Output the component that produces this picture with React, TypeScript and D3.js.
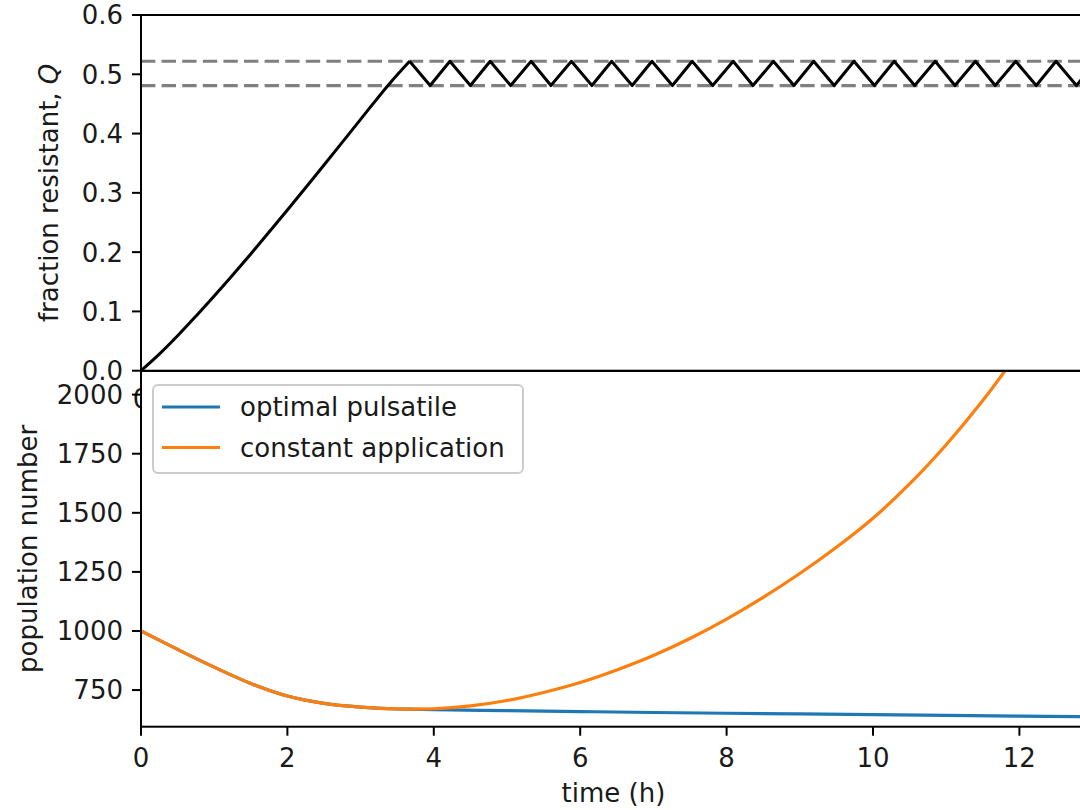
import React from 'react';
import * as d3 from 'd3';

// time axis (h)
const xTicks = [0, 2, 4, 6, 8, 10, 12];

// top panel: fraction resistant Q, rising part before pulsing starts
const riseTime = [0, 0.25, 0.5, 0.75, 1.0, 1.25, 1.5, 1.75, 2.0, 2.5, 3.0, 3.4, 3.67];
const riseQ = [0, 0.028, 0.059, 0.092, 0.126, 0.161, 0.197, 0.234, 0.271, 0.347, 0.424, 0.485, 0.522];

// pulsing between the two thresholds
const peakTimes = [3.67, 4.22, 4.77, 5.33, 5.88, 6.43, 6.98, 7.53, 8.09, 8.64, 9.19, 9.74, 10.29, 10.85, 11.40, 11.95, 12.50, 13.05];
const troughTimes = [3.95, 4.50, 5.05, 5.60, 6.16, 6.71, 7.26, 7.81, 8.36, 8.92, 9.47, 10.02, 10.57, 11.12, 11.67, 12.23, 12.78];
const qUpper = 0.522;
const qLower = 0.481;
const qTicks = [0, 0.1, 0.2, 0.3, 0.4, 0.5, 0.6];

// bottom panel: population number
const constTime = [0, 0.5, 1, 1.5, 2, 2.5, 3, 3.5, 4, 4.5, 5, 5.5, 6, 6.5, 7, 7.5, 8, 8.5, 9, 9.5, 10, 10.5, 11, 11.5, 12];
const constPop = [1000, 922, 847, 778, 725, 694, 678, 670, 671, 683, 706, 740, 782, 835, 896, 968, 1050, 1142, 1243, 1354, 1477, 1622, 1788, 1975, 2185];
const pulseTime = [0, 0.5, 1, 1.5, 2, 2.5, 3, 3.5, 3.67, 4, 5, 6, 7, 8, 9, 10, 11, 12, 12.91];
const pulsePop = [1000, 922, 847, 778, 725, 694, 678, 670, 669, 667, 663, 659, 655, 652, 649, 646, 643, 640, 637];
const popTicks = [750, 1000, 1250, 1500, 1750, 2000];

const FONT = '"DejaVu Sans", sans-serif';
const FS = 26;
const INK = '#1a1a1a';

const left = 141;
const right = 1086;
const topA = 15;
const topB = 370.7;
const botA = 371;
const botB = 726.7;

export default function App() {
  const x = d3.scaleLinear().domain([0, 12.91]).range([left, right]);
  const yQ = d3.scaleLinear().domain([0, 0.6]).range([topB, topA]);
  const yP = d3.scaleLinear().domain([595, 2100]).range([botB, botA]);

  const riseData = riseTime.map((t, i) => [t, riseQ[i]] as [number, number]);
  const zigData = [
    ...peakTimes.map(t => [t, qUpper] as [number, number]),
    ...troughTimes.map(t => [t, qLower] as [number, number]),
  ].sort((a, b) => a[0] - b[0]);

  const qSmooth = d3.line<[number, number]>()
    .x(d => x(d[0]))
    .y(d => yQ(d[1]))
    .curve(d3.curveCatmullRom.alpha(0.5));
  const qLinear = d3.line<[number, number]>()
    .x(d => x(d[0]))
    .y(d => yQ(d[1]));

  const popLine = d3.line<[number, number]>()
    .x(d => x(d[0]))
    .y(d => yP(d[1]))
    .curve(d3.curveCatmullRom.alpha(0.5));

  const constData = constTime.map((t, i) => [t, constPop[i]] as [number, number]);
  const pulseData = pulseTime.map((t, i) => [t, pulsePop[i]] as [number, number]);

  return (
    <svg width={1080} height={810} style={{ position: 'absolute', left: 0, top: 0, background: '#fff' }}
      fontFamily={FONT} fontSize={FS}>
      <defs>
        <clipPath id="clipTop">
          <rect x={left} y={topA} width={right - left} height={topB - topA} />
        </clipPath>
        <clipPath id="clipBot">
          <rect x={left} y={botA} width={right - left} height={botB - botA} />
        </clipPath>
      </defs>

      {/* ---- top panel ---- */}
      <rect x={left} y={topA} width={right - left} height={topB - topA} fill="#fff" />
      <g clipPath="url(#clipTop)">
        {[qUpper, qLower].map(q => (
          <line key={q} x1={left} x2={right} y1={yQ(q)} y2={yQ(q)}
            stroke="#808080" strokeWidth={3.2} strokeDasharray="14.4,6.2" />
        ))}
      </g>
      <path d={qSmooth(riseData) || ''} fill="none" stroke="#000" strokeWidth={3} strokeLinejoin="round" />
      <g clipPath="url(#clipTop)">
        <path d={qLinear(zigData) || ''} fill="none" stroke="#000" strokeWidth={3} strokeLinejoin="round" />
      </g>
      {/* top panel's own x label "0", mostly hidden behind lower axes */}
      <text x={x(0)} y={topB + 37} textAnchor="middle" fill={INK}>0</text>
      <rect x={left} y={topA} width={right - left} height={topB - topA} fill="none" stroke="#000" strokeWidth={2} />
      {qTicks.map(q => (
        <g key={q}>
          <line x1={left - 9} x2={left} y1={yQ(q)} y2={yQ(q)} stroke="#000" strokeWidth={2} />
          <text x={left - 18} y={yQ(q) + 9.4} textAnchor="end" fill={INK}>{d3.format('.1f')(q)}</text>
        </g>
      ))}
      <text transform={`translate(58, ${(topA + topB) / 2}) rotate(-90)`} textAnchor="middle" fill={INK}>
        fraction resistant, <tspan fontStyle="italic">Q</tspan>
      </text>

      {/* ---- bottom panel ---- */}
      <rect x={left} y={botA} width={right - left} height={botB - botA} fill="#fff" />
      <g clipPath="url(#clipBot)">
        <path d={popLine(pulseData) || ''} fill="none" stroke="#1f77b4" strokeWidth={3.2} />
        <path d={popLine(constData) || ''} fill="none" stroke="#ff7f0e" strokeWidth={3.2} />
      </g>
      <rect x={left} y={botA} width={right - left} height={botB - botA} fill="none" stroke="#000" strokeWidth={2} />
      {popTicks.map(p => (
        <g key={p}>
          <line x1={left - 9} x2={left} y1={yP(p)} y2={yP(p)} stroke="#000" strokeWidth={2} />
          <text x={left - 18} y={yP(p) + 9.4} textAnchor="end" fill={INK}>{p}</text>
        </g>
      ))}
      {xTicks.map(t => (
        <g key={t}>
          <line x1={x(t)} x2={x(t)} y1={botB} y2={botB + 9} stroke="#000" strokeWidth={2} />
          <text x={x(t)} y={botB + 40} textAnchor="middle" fill={INK}>{t}</text>
        </g>
      ))}
      <text x={(left + right) / 2} y={802} textAnchor="middle" fill={INK}>time (h)</text>
      <text transform={`translate(37, ${(botA + botB) / 2}) rotate(-90)`} textAnchor="middle" fill={INK}>
        population number
      </text>

      {/* legend */}
      <g>
        <rect x={153} y={385} width={370} height={88} rx={5} fill="#fff" fillOpacity={0.8} stroke="#cccccc" strokeWidth={2} />
        {[
          { label: 'optimal pulsatile', color: '#1f77b4' },
          { label: 'constant application', color: '#ff7f0e' },
        ].map((d, i) => (
          <g key={d.label} transform={`translate(0, ${407 + i * 40.5})`}>
            <line x1={162} x2={220} y1={0} y2={0} stroke={d.color} strokeWidth={3.2} />
            <text x={240} y={9.4} fill={INK}>{d.label}</text>
          </g>
        ))}
      </g>
    </svg>
  );
}
